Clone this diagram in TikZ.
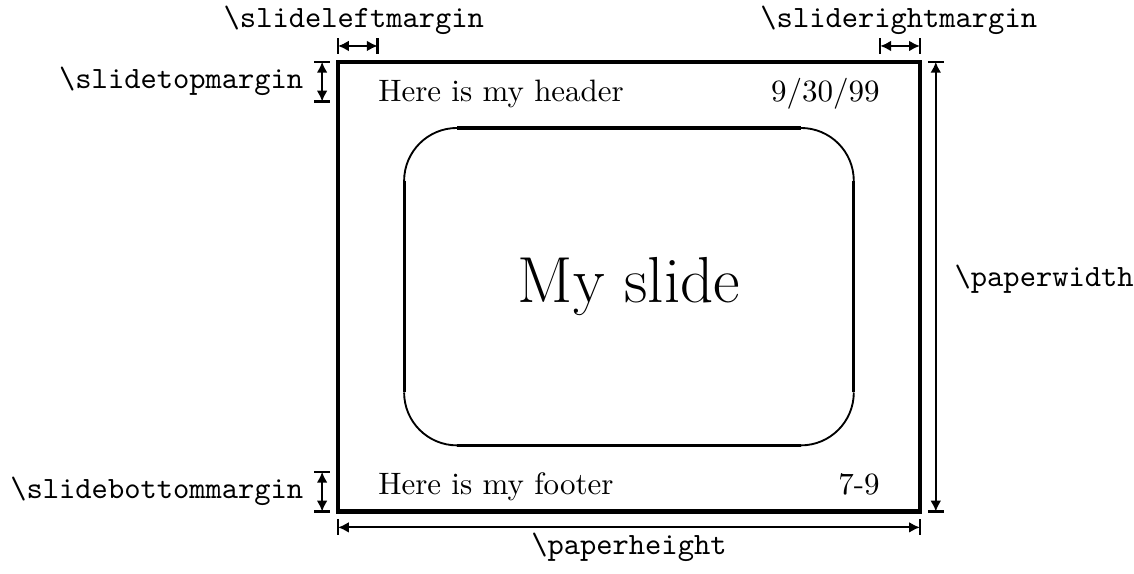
\documentclass[tikz,border=0pt]{standalone}
\usepackage{amsmath}
\usetikzlibrary{arrows.meta}

\begin{document}
\begin{tikzpicture}[x=0.6cm,y=0.6cm,
  dim/.style={{Latex[length=3.5pt,width=3.5pt]}-{Latex[length=3.5pt,width=3.5pt]}, line width=0.65pt},
  tick/.style={line width=0.8pt},
  lbl/.style={font=\ttfamily}]
\useasboundingbox (-6.389,-1.163) rectangle (15.047,9.669);

% Paper (11 x 8.5)
\draw[line width=1.3pt] (0,0) rectangle (11,8.5);

% Slide box: straight sides heavier than the corners
\draw[line width=1pt] (2.25,7.25) -- (8.75,7.25);
\draw[line width=1pt] (2.25,1.25) -- (8.75,1.25);
\draw[line width=1pt] (1.25,2.25) -- (1.25,6.25);
\draw[line width=1pt] (9.75,2.25) -- (9.75,6.25);
\draw[line width=0.6pt] (1.25,6.25) arc (180:90:1);
\draw[line width=0.6pt] (8.75,7.25) arc (90:0:1);
\draw[line width=0.6pt] (9.75,2.25) arc (0:-90:1);
\draw[line width=0.6pt] (2.25,1.25) arc (270:180:1);

% Header, footer and slide text
\node[anchor=base west, inner sep=0] (header) at (0.75,7.75) {Here is my header};
\node[anchor=base east, inner sep=0] (date) at (10.25,7.75) {9/30/99};
\node[anchor=base west, inner sep=0] (footer) at (0.75,0.33) {Here is my footer};
\node[anchor=base east, inner sep=0] (pages) at (10.25,0.33) {7-9};
\node (title) at (5.5,4.25) {\fontsize{21}{25}\selectfont My slide};

% Left and right margins
\foreach \x in {0,0.75,10.25,11} \draw[tick] (\x,8.65) -- (\x,8.95);
\draw[dim] (0,8.8) -- (0.75,8.8);
\draw[dim] (10.25,8.8) -- (11,8.8);
\node[lbl, anchor=base] (leftm) at (0.3,9.15) {\textbackslash slideleftmargin};
\node[lbl, anchor=base] (rightm) at (10.6,9.15) {\textbackslash sliderightmargin};

% Top and bottom margins
\foreach \y in {8.5,7.75,0.75,0} \draw[tick] (-0.45,\y) -- (-0.15,\y);
\draw[dim] (-0.3,8.5) -- (-0.3,7.75);
\draw[dim] (-0.3,0.75) -- (-0.3,0);
\node[lbl, left] (topm) at (-0.45,8.125) {\textbackslash slidetopmargin};
\node[lbl, left] (botm) at (-0.45,0.375) {\textbackslash slidebottommargin};

% Paper size
\foreach \y in {0,8.5} \draw[tick] (11.15,\y) -- (11.45,\y);
\foreach \x in {0,11} \draw[tick] (\x,-0.15) -- (\x,-0.45);
\draw[dim] (11.3,0) -- (11.3,8.5);
\draw[dim] (0,-0.3) -- (11,-0.3);
\node[lbl, right] (pw) at (11.45,4.4) {\textbackslash paperwidth};
\node[lbl, anchor=base] (ph) at (5.5,-0.82) {\textbackslash paperheight};

\end{tikzpicture}
\end{document}
